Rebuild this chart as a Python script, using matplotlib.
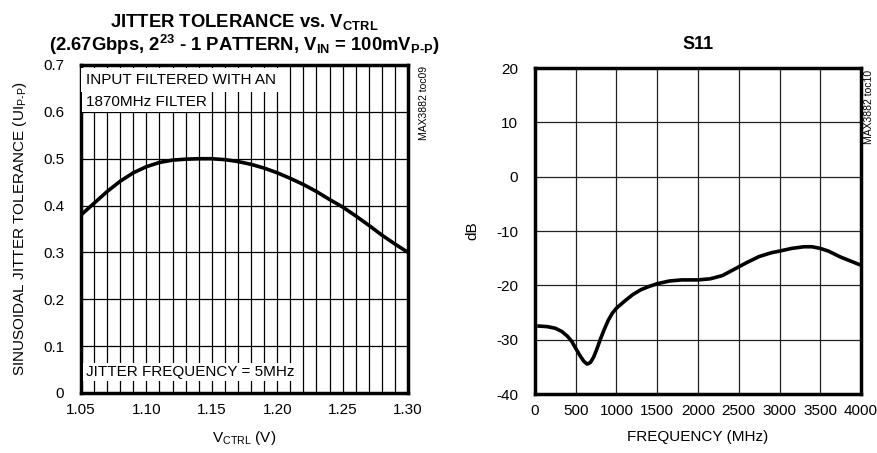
import numpy as np
import matplotlib
matplotlib.use("Agg")
import matplotlib.pyplot as plt
from matplotlib.ticker import MultipleLocator

plt.rcParams['font.family'] = ['Liberation Sans', 'DejaVu Sans']
plt.rcParams['mathtext.default'] = 'regular'
plt.rcParams['axes.unicode_minus'] = False

# jitter tolerance vs VCTRL
vctrl = [1.05, 1.06, 1.07, 1.08, 1.09, 1.10, 1.11, 1.12, 1.13, 1.14, 1.15, 1.16, 1.17,
         1.18, 1.19, 1.20, 1.21, 1.22, 1.23, 1.24, 1.25, 1.26, 1.27, 1.28, 1.29, 1.30]
jitter = [0.380, 0.405, 0.430, 0.452, 0.470, 0.483, 0.492, 0.497, 0.499, 0.500, 0.500, 0.498, 0.494,
          0.488, 0.480, 0.470, 0.458, 0.445, 0.430, 0.413, 0.397, 0.378, 0.358, 0.337, 0.318, 0.300]

# S11
freq = [50, 150, 250, 330, 400, 450, 500, 550, 600, 640, 680, 720, 760, 800, 850, 900, 950,
        1000, 1100, 1200, 1300, 1400, 1500, 1650, 1800, 2000, 2150, 2300, 2400, 2500, 2600,
        2750, 2900, 3000, 3150, 3300, 3400, 3500, 3600, 3750, 3900, 4000]
s11 = [-27.5, -27.6, -27.9, -28.5, -29.4, -30.3, -31.6, -32.9, -34.0, -34.5, -34.2, -33.2,
       -31.7, -30.0, -28.1, -26.4, -25.1, -24.2, -22.9, -21.7, -20.8, -20.2, -19.7, -19.2,
       -19.0, -19.0, -18.8, -18.2, -17.4, -16.6, -15.8, -14.7, -14.0, -13.7, -13.2, -12.9,
       -12.9, -13.2, -13.7, -14.8, -15.7, -16.3]

xticks_left = [1.05, 1.10, 1.15, 1.20, 1.25, 1.30]
xticks_right = [0, 500, 1000, 1500, 2000, 2500, 3000, 3500, 4000]

fig = plt.figure(figsize=(8.78, 4.53), dpi=100)
W, H = 878, 453
ax1 = fig.add_axes([81 / W, 1 - 393 / H, (408 - 81) / W, (393 - 65) / H])
ax2 = fig.add_axes([535 / W, 1 - 394 / H, (861 - 535) / W, (394 - 68) / H])

for ax in (ax1, ax2):
    for s in ax.spines.values():
        s.set_linewidth(2.5)
    ax.tick_params(which='both', length=0, labelsize=11)
    ax.tick_params(axis='y', pad=12)
    ax.tick_params(axis='x', pad=7)

# left chart
ax1.plot(vctrl, jitter, color='black', lw=2.6)
ax1.set_xlim(1.05, 1.30)
ax1.set_ylim(0, 0.7)
ax1.set_xticks(xticks_left)
ax1.set_xticklabels(['%.2f' % v for v in xticks_left])
ax1.xaxis.set_minor_locator(MultipleLocator(0.01))
ax1.yaxis.set_major_locator(MultipleLocator(0.1))
ax1.set_yticklabels(['0' if abs(v) < 1e-9 else '%.1f' % v for v in ax1.get_yticks()])
ax1.grid(which='both', color='black', lw=0.9)
ax1.set_xlabel('V$_{CTRL}$ (V)', fontsize=11, labelpad=9)
ax1.set_ylabel('SINUSOIDAL JITTER TOLERANCE (UI$_{P\u2010P}$)', fontsize=11, labelpad=10)
ax1.set_title('JITTER TOLERANCE vs. V$_{CTRL}$\n(2.67Gbps, 2$^{23}$ - 1 PATTERN, V$_{IN}$ = 100mV$_{P\u2010P}$)',
              fontsize=13.3, fontweight='bold', pad=10, linespacing=1.05)
ax1.text(1.0535, 0.668, 'INPUT FILTERED WITH AN', fontsize=11, va='center',
         bbox=dict(facecolor='white', edgecolor='none', pad=3.5))
ax1.text(1.0535, 0.622, '1870MHz FILTER', fontsize=11, va='center',
         bbox=dict(facecolor='white', edgecolor='none', pad=2.5))
ax1.text(1.0535, 0.045, 'JITTER FREQUENCY = 5MHz', fontsize=11, va='center',
         bbox=dict(facecolor='white', edgecolor='none', pad=1.5))
fig.text(424 / W, 1 - 66 / H, 'MAX3882 toc09', rotation=90, fontsize=7.5, ha='center', va='top')

# right chart
ax2.plot(freq, s11, color='black', lw=2.6)
ax2.set_xlim(0, 4000)
ax2.set_ylim(-40, 20)
ax2.set_xticks(xticks_right)
ax2.yaxis.set_major_locator(MultipleLocator(10))
ax2.grid(which='major', color='#222222', lw=0.9)
ax2.set_xlabel('FREQUENCY (MHz)', fontsize=11, labelpad=9)
ax2.set_ylabel('dB', fontsize=11, labelpad=12)
ax2.set_title('S11', fontsize=13, fontweight='bold', pad=14)
fig.text(869 / W, 1 - 70 / H, 'MAX3882 toc10', rotation=90, fontsize=7.5, ha='center', va='top')

fig.savefig('out.png', dpi=100)
